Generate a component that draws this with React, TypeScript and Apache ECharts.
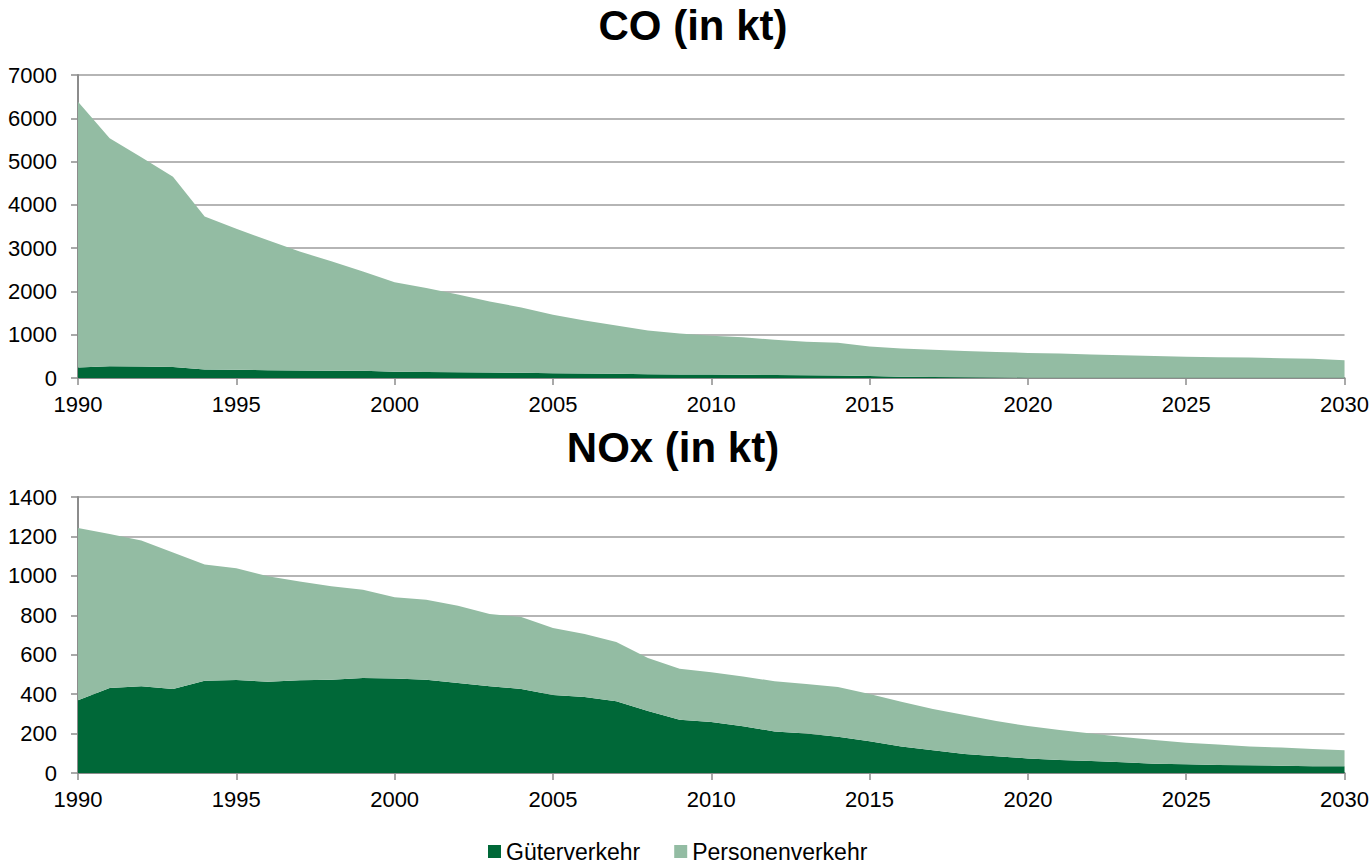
import React, { useEffect, useRef } from "react";
import * as echarts from "echarts";

const years = [
  "1990","1991","1992","1993","1994","1995","1996","1997","1998","1999",
  "2000","2001","2002","2003","2004","2005","2006","2007","2008","2009",
  "2010","2011","2012","2013","2014","2015","2016","2017","2018","2019",
  "2020","2021","2022","2023","2024","2025","2026","2027","2028","2029","2030",
];

const coGueter = [
  245, 270, 265, 255, 195, 190, 180, 175, 170, 165,
  145, 140, 135, 125, 120, 108, 105, 100, 85, 80,
  78, 75, 70, 65, 60, 45, 30, 22, 15, 10,
  8, 7, 7, 6, 6, 6, 5, 5, 5, 5, 5,
];
const coPersonen = [
  6135, 5270, 4835, 4395, 3535, 3260, 3000, 2745, 2530, 2295,
  2065, 1940, 1795, 1645, 1510, 1352, 1225, 1110, 1015, 950,
  899, 864, 815, 775, 757, 680, 650, 628, 611, 593,
  572, 558, 535, 521, 505, 483, 476, 468, 453, 438, 407,
];

const noxGueter = [
  369, 431, 440, 426, 468, 472, 463, 470, 473, 482,
  479, 473, 457, 440, 426, 396, 386, 364, 315, 270,
  259, 237, 211, 200, 184, 161, 135, 115, 96, 85,
  74, 66, 61, 54, 47, 44, 41, 39, 37, 34, 34,
];
const noxPersonen = [
  874, 781, 739, 693, 589, 566, 535, 502, 474, 448,
  412, 406, 392, 367, 365, 340, 319, 301, 268, 259,
  252, 253, 254, 251, 252, 240, 227, 210, 198, 179,
  164, 152, 139, 129, 120, 110, 103, 96, 92, 88, 81,
];

const titles = ["CO (in kt)", "NOx (in kt)"];
const seriesNames = ["Güterverkehr", "Personenverkehr"];

const DARK = "#006838";
const LIGHT = "#93bca3";
const FONT = "'Liberation Sans', Arial, sans-serif";

export default function App() {
  const ref = useRef<HTMLDivElement>(null);

  useEffect(() => {
    if (!ref.current) return;
    const chart = echarts.init(ref.current, null, { renderer: "svg" });

    const xAxisBase = (gridIndex: number) => ({
      type: "category" as const,
      gridIndex,
      data: years,
      boundaryGap: false,
      axisLine: { show: true, lineStyle: { color: "#8c8c8c", width: 2 } },
      axisTick: { show: true, interval: 4, length: 7, lineStyle: { color: "#8c8c8c", width: 1.5 } },
      axisLabel: { interval: 4, margin: 15, color: "#000", fontSize: 22, fontFamily: FONT },
      splitLine: { show: false },
    });

    const yAxisBase = (gridIndex: number, max: number, interval: number) => ({
      type: "value" as const,
      gridIndex,
      min: 0,
      max,
      interval,
      axisLine: { show: true, lineStyle: { color: "#8c8c8c", width: 2 } },
      axisTick: { show: true, length: 7, lineStyle: { color: "#8c8c8c", width: 1.5 } },
      axisLabel: {
        margin: 21,
        color: "#000",
        fontSize: 22,
        fontFamily: FONT,
        formatter: (v: number) => String(v),
      },
      splitLine: { show: true, lineStyle: { color: "#9c9c9c", width: 1.5 } },
    });

    const area = (name: string, data: number[], color: string, idx: number, stack: string) => ({
      name,
      type: "line" as const,
      xAxisIndex: idx,
      yAxisIndex: idx,
      stack,
      data,
      symbol: "none",
      showSymbol: false,
      lineStyle: { width: 0, color },
      itemStyle: { color },
      areaStyle: { color, opacity: 1 },
    });

    chart.setOption({
      animation: false,
      backgroundColor: "#ffffff",
      textStyle: { fontFamily: FONT },
      grid: [
        { left: 78, right: 27, top: 75, height: 303 },
        { left: 78, right: 27, top: 497, height: 276 },
      ],
      xAxis: [xAxisBase(0), xAxisBase(1)],
      yAxis: [yAxisBase(0, 7000, 1000), yAxisBase(1, 1400, 200)],
      legend: {
        data: seriesNames,
        left: 488,
        top: 840,
        padding: 0,
        icon: "rect",
        itemWidth: 13,
        itemHeight: 13,
        itemGap: 34,
        textStyle: { fontSize: 23, color: "#000", fontFamily: FONT },
      },
      graphic: [
        {
          type: "text",
          x: 693,
          y: 25,
          style: {
            text: titles[0],
            font: `bold 42px ${FONT}`,
            fill: "#000",
            textAlign: "center",
            textVerticalAlign: "middle",
          },
        },
        {
          type: "text",
          x: 673,
          y: 447,
          style: {
            text: titles[1],
            font: `bold 42px ${FONT}`,
            fill: "#000",
            textAlign: "center",
            textVerticalAlign: "middle",
          },
        },
      ],
      series: [
        area(seriesNames[0], coGueter, DARK, 0, "co"),
        area(seriesNames[1], coPersonen, LIGHT, 0, "co"),
        area(seriesNames[0], noxGueter, DARK, 1, "nox"),
        area(seriesNames[1], noxPersonen, LIGHT, 1, "nox"),
      ],
    });

    return () => chart.dispose();
  }, []);

  return (
    <div
      ref={ref}
      style={{ position: "absolute", left: 0, top: 0, width: 1372, height: 864 }}
    />
  );
}
